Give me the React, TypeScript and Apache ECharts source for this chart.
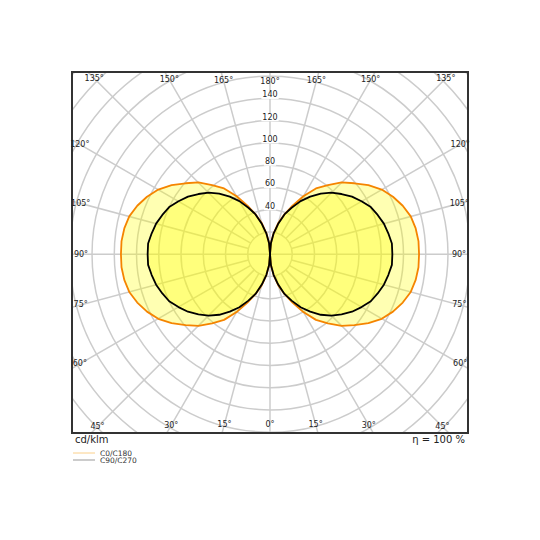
import React, { useEffect, useRef } from "react";
import * as echarts from "echarts";

// gamma angles (deg, 0 = nadir, 180 = zenith)
const ANGLES = [0, 5, 10, 15, 20, 25, 30, 35, 40, 45, 50, 55, 60, 65, 70, 75, 80, 85, 90, 95, 100, 105, 110, 115, 120, 125, 130, 135, 140, 145, 150, 155, 160, 165, 170, 175, 180];
// luminous intensity, cd/klm
const C0 = [0, 10, 19, 29, 38, 48, 60, 72, 81, 91, 99, 108, 116, 122, 127, 131, 133, 134, 134, 134, 133, 131, 127, 122, 116, 108, 99, 91, 81, 72, 60, 48, 38, 29, 19, 10, 0];
const C180 = [0, 10, 19, 29, 38, 48, 60, 72, 81, 91, 99, 108, 116, 122, 127, 131, 133, 134, 134, 134, 133, 131, 127, 122, 116, 108, 99, 91, 81, 72, 60, 48, 38, 29, 19, 10, 0];
const C90 = [0, 10, 19, 28, 38, 46, 55, 63, 71, 78, 84, 90, 95, 100, 103, 106, 108, 110, 110, 110, 108, 106, 103, 100, 95, 90, 84, 78, 71, 63, 55, 46, 38, 28, 19, 10, 0];
const C270 = [0, 10, 19, 28, 38, 46, 55, 63, 71, 78, 84, 90, 95, 100, 103, 106, 108, 110, 110, 110, 108, 106, 103, 100, 95, 90, 84, 78, 71, 63, 55, 46, 38, 28, 19, 10, 0];

const RING_VALUES = [20, 40, 60, 80, 100, 120, 140, 160, 180, 200, 220, 240, 260, 280];
const RING_LABELS = [40, 60, 80, 100, 120, 140];
const RAY_ANGLES = [0, 15, 30, 45, 60, 75, 90, 105, 120, 135, 150, 165, 180, 195, 210, 225, 240, 255, 270, 285, 300, 315, 330, 345];
const ANGLE_TICKS = [0, 15, 30, 45, 60, 75, 90, 105, 120, 135, 150, 165, 180];
const UNIT_LABEL = "cd/klm";
const EFFICIENCY_LABEL = "η = 100 %";
const LEGEND_NAMES = ["C0/C180", "C90/C270"];

const FONT = "DejaVu Sans";
const GRID_COLOR = "#cccccc";

function toXY(gammaDeg: number, value: number, side: number): [number, number] {
  const r = (gammaDeg * Math.PI) / 180;
  return [side * value * Math.sin(r), -value * Math.cos(r)];
}

export default function App() {
  const ref = useRef<HTMLDivElement>(null);
  useEffect(() => {
    const chart = echarts.init(ref.current!, null, { renderer: "svg" });

    const lobeSeries = (right: number[], left: number[], stroke: string, lw: number, z: number) => ({
      type: "custom",
      coordinateSystem: "cartesian2d",
      clip: true,
      z,
      silent: true,
      data: [[0, 0]],
      renderItem: (params: any, api: any) => {
        const rp = ANGLES.map((g, i) => api.coord(toXY(g, right[i], 1)));
        const lp = ANGLES.map((g, i) => api.coord(toXY(g, left[i], -1)));
        const style = { fill: "rgba(255,255,0,0.3)", stroke, lineWidth: lw, lineJoin: "round" };
        return {
          type: "group",
          children: [
            { type: "polygon", shape: { points: rp }, style },
            { type: "polygon", shape: { points: lp }, style },
          ],
        };
      },
    });

    const option: any = {
      animation: false,
      grid: { left: 72, top: 72, width: 396, height: 361, show: false },
      xAxis: { type: "value", min: -178, max: 178, show: false },
      yAxis: { type: "value", min: -160.5, max: 163.5, show: false },
      series: [
        {
          type: "custom",
          coordinateSystem: "cartesian2d",
          clip: true,
          z: 1,
          silent: true,
          data: [[0, 0]],
          renderItem: (params: any, api: any) => {
            const c = api.coord([0, 0]);
            const unit = api.size([1, 0])[0];
            const children: any[] = [];
            RING_VALUES.forEach((v) => {
              children.push({
                type: "circle",
                shape: { cx: c[0], cy: c[1], r: v * unit },
                style: { fill: "none", stroke: GRID_COLOR, lineWidth: 1.5 },
              });
            });
            const far = 400;
            RAY_ANGLES.forEach((a) => {
              const rad = (a * Math.PI) / 180;
              const start = a % 90 === 0 ? 0 : RING_VALUES[0] * unit;
              const dx = Math.sin(rad);
              const dy = Math.cos(rad);
              children.push({
                type: "line",
                shape: {
                  x1: c[0] + dx * start,
                  y1: c[1] + dy * start,
                  x2: c[0] + dx * far,
                  y2: c[1] + dy * far,
                },
                style: { stroke: GRID_COLOR, lineWidth: 1.5 },
              });
            });
            return { type: "group", children };
          },
        },
        lobeSeries(C0, C180, "#f58400", 1.8, 3),
        lobeSeries(C90, C270, "#000000", 1.8, 4),
        {
          type: "custom",
          coordinateSystem: "cartesian2d",
          clip: false,
          z: 10,
          silent: true,
          data: [[0, 0]],
          renderItem: (params: any, api: any) => {
            const cs = params.coordSys;
            const c = api.coord([0, 0]);
            const unit = api.size([1, 0])[0];
            const children: any[] = [];
            children.push({
              type: "rect",
              shape: { x: cs.x, y: cs.y, width: cs.width, height: cs.height },
              style: { fill: "none", stroke: "#333333", lineWidth: 2 },
            });
            const inset = 9;
            const sides = [1, -1];
            ANGLE_TICKS.forEach((g) => {
              sides.forEach((s) => {
                if (s === -1 && (g === 0 || g === 180)) return;
                const rad = (g * Math.PI) / 180;
                const dx = s * Math.sin(rad);
                const dy = Math.cos(rad);
                let t = Infinity;
                if (dx > 1e-9) t = Math.min(t, (cs.x + cs.width - c[0]) / dx);
                if (dx < -1e-9) t = Math.min(t, (cs.x - c[0]) / dx);
                if (dy > 1e-9) t = Math.min(t, (cs.y + cs.height - c[1]) / dy);
                if (dy < -1e-9) t = Math.min(t, (cs.y - c[1]) / dy);
                const px = c[0] + dx * (t - inset);
                const py = c[1] + dy * (t - inset);
                children.push({
                  type: "text",
                  x: px,
                  y: py,
                  style: {
                    text: g + "°",
                    fill: "#222222",
                    fontSize: 8,
                    fontFamily: FONT,
                    align: "center",
                    verticalAlign: "middle",
                  },
                });
              });
            });
            RING_LABELS.forEach((v) => {
              children.push({
                type: "text",
                x: c[0],
                y: c[1] - v * unit - 3.5,
                style: {
                  text: String(v),
                  fill: "#222222",
                  fontSize: 8,
                  fontFamily: FONT,
                  align: "center",
                  verticalAlign: "middle",
                  backgroundColor: "#ffffff",
                  padding: [0, 1],
                },
              });
            });
            return { type: "group", children };
          },
        },
      ],
      graphic: [
        {
          type: "text",
          x: 75,
          y: 439,
          style: { text: UNIT_LABEL, fill: "#222222", fontSize: 10, fontFamily: FONT, align: "left", verticalAlign: "middle" },
        },
        {
          type: "text",
          x: 465,
          y: 439,
          style: { text: EFFICIENCY_LABEL, fill: "#222222", fontSize: 10, fontFamily: FONT, align: "right", verticalAlign: "middle" },
        },
        {
          type: "line",
          shape: { x1: 73, y1: 453, x2: 95, y2: 453 },
          style: { stroke: "#fbd08a", lineWidth: 1 },
        },
        {
          type: "line",
          shape: { x1: 73, y1: 460, x2: 95, y2: 460 },
          style: { stroke: "#999999", lineWidth: 1 },
        },
        {
          type: "text",
          x: 100,
          y: 453,
          style: { text: LEGEND_NAMES[0], fill: "#333333", fontSize: 7.5, fontFamily: FONT, align: "left", verticalAlign: "middle" },
        },
        {
          type: "text",
          x: 100,
          y: 460.5,
          style: { text: LEGEND_NAMES[1], fill: "#333333", fontSize: 7.5, fontFamily: FONT, align: "left", verticalAlign: "middle" },
        },
      ],
    };

    chart.setOption(option);
    return () => chart.dispose();
  }, []);
  return <div ref={ref} style={{ position: "absolute", left: 0, top: 0, width: 540, height: 540 }} />;
}
